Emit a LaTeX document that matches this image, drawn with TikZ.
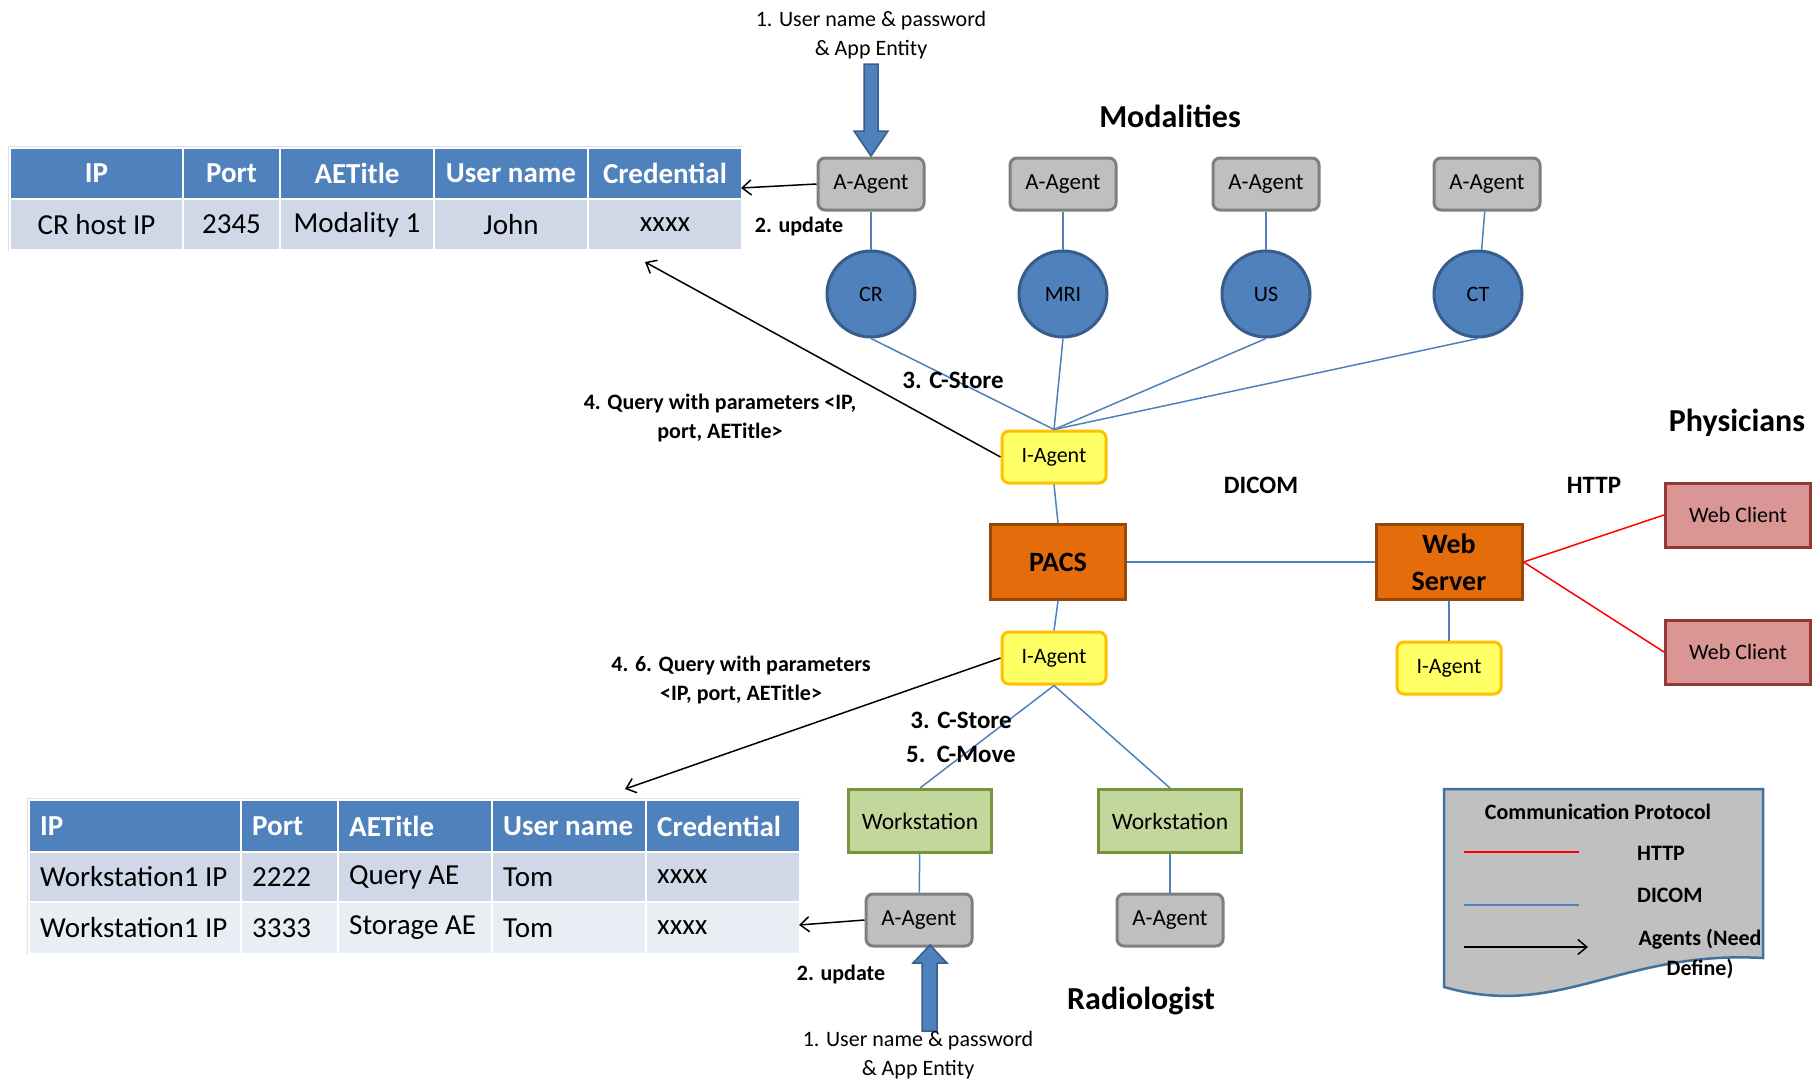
\documentclass[tikz,border=0pt]{standalone}
\usepackage{fontspec}
\setmainfont{Carlito}
\usetikzlibrary{shapes.geometric,arrows.meta}
\definecolor{hdrblue}{HTML}{4F81BD}
\definecolor{rowa}{HTML}{D0D8E8}
\definecolor{rowb}{HTML}{E9EDF4}
\definecolor{agray}{HTML}{BFBFBF}
\definecolor{agrayd}{HTML}{7F7F7F}
\definecolor{cblue}{HTML}{4F81BD}
\definecolor{cblued}{HTML}{385D8A}
\definecolor{iyel}{HTML}{FFFF66}
\definecolor{iyeld}{HTML}{FFC000}
\definecolor{porange}{HTML}{E46C0A}
\definecolor{porangedk}{HTML}{984807}
\definecolor{wcred}{HTML}{D99694}
\definecolor{wcredd}{HTML}{953735}
\definecolor{wsgreen}{HTML}{C3D69B}
\definecolor{wsgreend}{HTML}{77933C}
\definecolor{leggray}{HTML}{C0C0C0}
\definecolor{legblue}{HTML}{41719C}
\tikzset{
  lbl/.style={inner sep=0pt, align=center},
  aagent/.style={rounded corners=7pt, fill=agray, draw=agrayd, line width=3pt, minimum width=106pt, minimum height=52pt, inner sep=0pt, font=\fontsize{23}{27}\selectfont},
  modal/.style={ellipse, fill=cblue, draw=cblued, line width=3pt, minimum width=88pt, minimum height=86pt, inner sep=0pt, font=\fontsize{22}{26}\selectfont},
  iagent/.style={rounded corners=7pt, fill=iyel, draw=iyeld, line width=3pt, minimum width=104pt, minimum height=52pt, inner sep=0pt, font=\fontsize{22}{26}\selectfont},
  server/.style={fill=porange, draw=porangedk, line width=3pt, inner sep=0pt, align=center, minimum height=75pt, font=\bfseries\fontsize{28}{37}\selectfont},
  wclient/.style={fill=wcred, draw=wcredd, line width=3pt, minimum width=145pt, minimum height=64pt, inner sep=0pt, font=\fontsize{22}{26}\selectfont},
  wstation/.style={fill=wsgreen, draw=wsgreend, line width=3pt, minimum width=143pt, minimum height=63pt, inner sep=0pt, font=\fontsize{23.5}{27}\selectfont},
  dicomline/.style={draw=cblue, line width=1.5pt},
  httpline/.style={draw=red, line width=1.5pt},
  agentarrow/.style={draw=black, line width=1.5pt, -{Straight Barb[length=9pt,width=15pt]}},
  bigarrow/.style={fill=cblue, draw=cblued, line width=1.5pt, line join=miter},
  hcell/.style={fill=hdrblue, draw=white, line width=2pt, text=white, inner sep=0pt, anchor=north west, font=\bfseries\fontsize{29}{34}\selectfont},
  bcell/.style={fill=#1, draw=white, line width=2pt, inner sep=0pt, anchor=north west, font=\fontsize{29}{34}\selectfont},
  hbox/.style={fill=hdrblue, draw=white, line width=2pt, inner sep=0pt, anchor=north west},
  bbox/.style={fill=#1, draw=white, line width=2pt, inner sep=0pt, anchor=north west},
  htxt/.style={anchor=west, inner sep=0pt, xshift=12pt, text=white, font=\bfseries\fontsize{29}{34}\selectfont},
  btxt/.style={anchor=west, inner sep=0pt, xshift=12pt, font=\fontsize{29}{34}\selectfont},
  bigtitle/.style={inner sep=0pt, font=\bfseries\fontsize{32}{38}\selectfont},
  steplbl/.style={inner sep=0pt, align=center, font=\bfseries\fontsize{22}{29}\selectfont},
}
\begin{document}
\begin{tikzpicture}[x=1pt, y=-1pt]
\useasboundingbox (0,0) rectangle (1816,1082);
\fill[white] (0,0) rectangle (1816,1082);

% ---------- top table ----------
\draw[black!12, line width=1pt] (8,146) rectangle (742,250);
\node[hcell, minimum width=173pt, minimum height=51pt] (t1h1) at (9,147) {IP};
\node[hcell, minimum width=97pt, minimum height=51pt] (t1h2) at (182,147) {Port};
\node[hcell, minimum width=154pt, minimum height=51pt] (t1h3) at (279,147) {AETitle};
\node[hcell, minimum width=154pt, minimum height=51pt] (t1h4) at (433,147) {User name};
\node[hcell, minimum width=154pt, minimum height=51pt] (t1h5) at (587,147) {Credential};
\node[bcell=rowa, minimum width=173pt, minimum height=51pt] (t1b1) at (9,198) {CR host IP};
\node[bcell=rowa, minimum width=97pt, minimum height=51pt] (t1b2) at (182,198) {2345};
\node[bcell=rowa, minimum width=154pt, minimum height=51pt] (t1b3) at (279,198) {Modality 1};
\node[bcell=rowa, minimum width=154pt, minimum height=51pt] (t1b4) at (433,198) {John};
\node[bcell=rowa, minimum width=154pt, minimum height=51pt] (t1b5) at (587,198) {xxxx};

% ---------- bottom table ----------
\draw[black!12, line width=1pt] (27,798) rectangle (800,954);
\node[hbox, minimum width=212pt, minimum height=52pt] (t2h1) at (28,799) {};
\node[hbox, minimum width=97pt, minimum height=52pt] (t2h2) at (240,799) {};
\node[hbox, minimum width=154pt, minimum height=52pt] (t2h3) at (337,799) {};
\node[hbox, minimum width=154pt, minimum height=52pt] (t2h4) at (491,799) {};
\node[hbox, minimum width=154pt, minimum height=52pt] (t2h5) at (645,799) {};
\node[bbox=rowa, minimum width=212pt, minimum height=50pt] (t2a1) at (28,851) {};
\node[bbox=rowa, minimum width=97pt, minimum height=50pt] (t2a2) at (240,851) {};
\node[bbox=rowa, minimum width=154pt, minimum height=50pt] (t2a3) at (337,851) {};
\node[bbox=rowa, minimum width=154pt, minimum height=50pt] (t2a4) at (491,851) {};
\node[bbox=rowa, minimum width=154pt, minimum height=50pt] (t2a5) at (645,851) {};
\node[bbox=rowb, minimum width=212pt, minimum height=52pt] (t2b1) at (28,901) {};
\node[bbox=rowb, minimum width=97pt, minimum height=52pt] (t2b2) at (240,901) {};
\node[bbox=rowb, minimum width=154pt, minimum height=52pt] (t2b3) at (337,901) {};
\node[bbox=rowb, minimum width=154pt, minimum height=52pt] (t2b4) at (491,901) {};
\node[bbox=rowb, minimum width=154pt, minimum height=52pt] (t2b5) at (645,901) {};
\node[htxt] (t2h1t) at (t2h1.west) {IP};
\node[htxt] (t2h2t) at (t2h2.west) {Port};
\node[htxt] (t2h3t) at (t2h3.west) {AETitle};
\node[htxt] (t2h4t) at (t2h4.west) {User name};
\node[htxt] (t2h5t) at (t2h5.west) {Credential};
\node[btxt] (t2a1t) at (t2a1.west) {Workstation1 IP};
\node[btxt] (t2a2t) at (t2a2.west) {2222};
\node[btxt] (t2a3t) at (t2a3.west) {Query AE};
\node[btxt] (t2a4t) at (t2a4.west) {Tom};
\node[btxt] (t2a5t) at (t2a5.west) {xxxx};
\node[btxt] (t2b1t) at (t2b1.west) {Workstation1 IP};
\node[btxt] (t2b2t) at (t2b2.west) {3333};
\node[btxt] (t2b3t) at (t2b3.west) {Storage AE};
\node[btxt] (t2b4t) at (t2b4.west) {Tom};
\node[btxt] (t2b5t) at (t2b5.west) {xxxx};

% ---------- modalities ----------
\node[bigtitle] (modt) at (1170,116) {Modalities};
\node[aagent] (aag1) at (871,184) {A-Agent};
\node[aagent] (aag2) at (1063,184) {A-Agent};
\node[aagent] (aag3) at (1266,184) {A-Agent};
\node[aagent] (aag4) at (1487,184) {A-Agent};
\node[modal] (cr) at (871,294) {CR};
\node[modal] (mri) at (1063,294) {MRI};
\node[modal] (us) at (1266,294) {US};
\node[modal] (ct) at (1478,294) {CT};

% ---------- center ----------
\node[iagent] (ia1) at (1054,457) {I-Agent};
\node[server, minimum width=135pt] (pacs) at (1058,562) {PACS};
\node[server, minimum width=146pt] (web) at (1449,562) {Web\\Server};
\node[iagent] (ia2) at (1054,658) {I-Agent};
\node[iagent] (ia3) at (1449,668) {I-Agent};
\node[wclient] (wc1) at (1738,515) {Web Client};
\node[wclient] (wc2) at (1738,652) {Web Client};
\node[wstation] (ws1) at (920,821) {Workstation};
\node[wstation] (ws2) at (1170,821) {Workstation};
\node[aagent] (aag5) at (919,920) {A-Agent};
\node[aagent] (aag6) at (1170,920) {A-Agent};

% ---------- DICOM lines ----------
\draw[dicomline] (aag1) -- (cr);
\draw[dicomline] (aag2) -- (mri);
\draw[dicomline] (aag3) -- (us);
\draw[dicomline] (aag4) -- (ct);
\draw[dicomline] (cr.south) -- (ia1.north);
\draw[dicomline] (mri.south) -- (ia1.north);
\draw[dicomline] (us.south) -- (ia1.north);
\draw[dicomline] (ct.south) -- (ia1.north);
\draw[dicomline] (ia1.south) -- (pacs.north);
\draw[dicomline] (pacs.south) -- (ia2.north);
\draw[dicomline] (pacs.east) -- (web.west);
\draw[dicomline] (web.south) -- (ia3.north);
\draw[dicomline] (ia2.south) -- (ws1.north);
\draw[dicomline] (ia2.south) -- (ws2.north);
\draw[dicomline] (ws1) -- (aag5);
\draw[dicomline] (ws2) -- (aag6);

% ---------- HTTP lines ----------
\draw[httpline] (web.east) -- (wc1.west);
\draw[httpline] (web.east) -- (wc2.west);

% ---------- agent arrows ----------
\coordinate (t1end) at (741,188);
\coordinate (q1end) at (645,262);
\coordinate (q2end) at (625,789);
\coordinate (t2end) at (799,925);
\draw[agentarrow] (aag1.west) -- (t1end);
\draw[agentarrow] (ia1.west) -- (q1end);
\draw[agentarrow] (ia2.west) -- (q2end);
\draw[agentarrow] (aag5.west) -- (t2end);

% ---------- big blue arrows ----------
\draw[bigarrow] (864,64) -- (878,64) -- (878,131) -- (888,131) -- (871,156) -- (854,131) -- (864,131) -- cycle;
\draw[bigarrow] (922,1031) -- (937,1031) -- (937,963) -- (947,963) -- (930,945) -- (913,963) -- (922,963) -- cycle;

% ---------- labels ----------
\node[lbl, font=\fontsize{22}{29}\selectfont] (cred1) at (871,35) {1. User name \& password\\\& App Entity};
\node[lbl, font=\fontsize{22}{29}\selectfont] (cred2) at (918,1055) {1. User name \& password\\\& App Entity};
\node[lbl, font=\bfseries\fontsize{22}{26}\selectfont] (upd1) at (799,227) {2. update};
\node[lbl, font=\bfseries\fontsize{22}{26}\selectfont] (upd2) at (841,974) {2. update};
\node[lbl, font=\bfseries\fontsize{25}{34}\selectfont] (cs1) at (953,380) {3. C-Store};
\node[lbl, font=\bfseries\fontsize{25}{34}\selectfont] (cs2) at (961,737) {3. C-Store\\5.\ \ C-Move};
\node[steplbl] (q1) at (720,418) {4. Query with parameters <IP,\\port, AETitle>};
\node[steplbl] (q2) at (741,680) {4. 6. Query with parameters\\<IP, port, AETitle>};
\node[lbl, font=\bfseries\fontsize{25}{30}\selectfont] (dicomt) at (1261,485) {DICOM};
\node[lbl, font=\bfseries\fontsize{25}{30}\selectfont] (httpt) at (1594,485) {HTTP};
\node[bigtitle] (phys) at (1737,423) {Physicians};
\node[bigtitle] (radio) at (1141,1001) {Radiologist};

% ---------- legend ----------
\draw[fill=leggray, draw=legblue, line width=2.5pt] (1444,789) -- (1763,789) -- (1763,958)
  .. controls (1620,950) and (1560,1020) .. (1444,987) -- cycle;
\node[lbl, font=\bfseries\fontsize{22}{26}\selectfont] (legt) at (1598,812) {Communication Protocol};
\coordinate (lh1) at (1464,852); \coordinate (lh2) at (1579,852);
\coordinate (ld1) at (1464,905); \coordinate (ld2) at (1579,905);
\coordinate (la1) at (1464,947); \coordinate (la2) at (1588,947);
\draw[httpline] (lh1) -- (lh2);
\draw[dicomline] (ld1) -- (ld2);
\draw[agentarrow] (la1) -- (la2);
\node[lbl, anchor=west, font=\bfseries\fontsize{22}{26}\selectfont] (legh) at (1637,853) {HTTP};
\node[lbl, anchor=west, font=\bfseries\fontsize{22}{26}\selectfont] (legd) at (1637,895) {DICOM};
\node[lbl, font=\bfseries\fontsize{22}{30}\selectfont] (lega) at (1700,954) {Agents (Need\\Define)};
\end{tikzpicture}
\end{document}
